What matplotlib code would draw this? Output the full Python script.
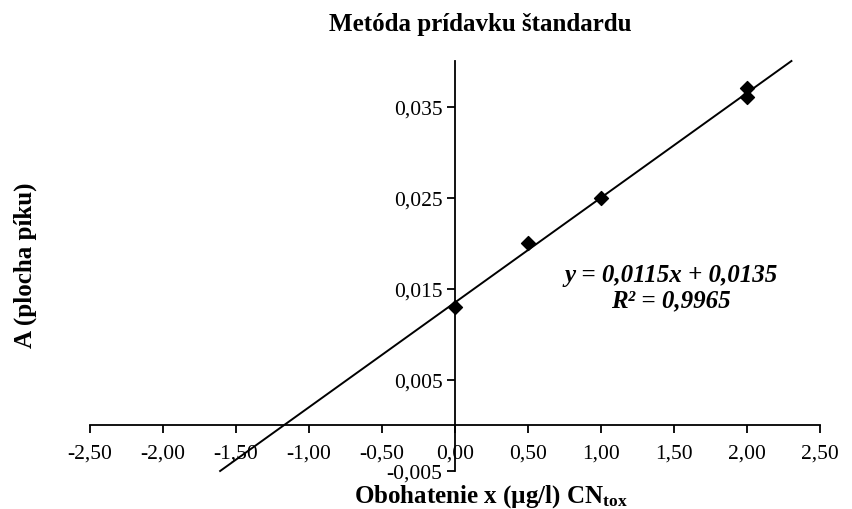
import matplotlib
matplotlib.use("Agg")
import matplotlib.pyplot as plt
from matplotlib.ticker import FuncFormatter, FixedLocator
import numpy as np

plt.rcParams['font.family'] = ['Liberation Serif', 'DejaVu Serif']
plt.rcParams['mathtext.fontset'] = 'custom'
plt.rcParams['mathtext.rm'] = 'Liberation Serif'
plt.rcParams['mathtext.bf'] = 'Liberation Serif:bold'
plt.rcParams['mathtext.it'] = 'Liberation Serif:italic'

x_vals = [0.0, 0.5, 1.0, 2.0, 2.0]
y_vals = [0.013, 0.020, 0.025, 0.036, 0.037]
slope = 0.0115
intercept = 0.0135
r2 = 0.9965
x_ticks = [-2.5, -2.0, -1.5, -1.0, -0.5, 0.0, 0.5, 1.0, 1.5, 2.0, 2.5]
y_ticks = [-0.005, 0.005, 0.015, 0.025, 0.035]

fig = plt.figure(figsize=(8.53, 5.10), dpi=100)
ax = fig.add_axes([90/853, 1-472/510, 730/853, 410/510])
ax.set_xlim(-2.5, 2.5)
ax.set_ylim(-0.005, 0.04)

ax.spines['left'].set_position(('data', 0))
ax.spines['bottom'].set_position(('data', 0))
ax.spines['right'].set_visible(False)
ax.spines['top'].set_visible(False)
for s in ('left', 'bottom'):
    ax.spines[s].set_linewidth(1.3)

ax.xaxis.set_major_locator(FixedLocator(x_ticks))
ax.yaxis.set_major_locator(FixedLocator(y_ticks))
ax.xaxis.set_major_formatter(FuncFormatter(lambda v, p: f"{v:.2f}".replace('.', ',')))
ax.yaxis.set_major_formatter(FuncFormatter(lambda v, p: f"{v:.3f}".replace('.', ',')))
ax.tick_params(axis='both', direction='out', length=6, width=1.3, labelsize=15.5)
ax.tick_params(axis='x', pad=7)
ax.tick_params(axis='y', pad=3)

# trendline
xl = np.array([(-0.005 - intercept) / slope, (0.04 - intercept) / slope])
ax.plot(xl, slope * xl + intercept, color='black', lw=1.4, clip_on=False)

ax.scatter(x_vals, y_vals, marker='D', s=50, color='black', zorder=5, clip_on=False)

ax.text(1.48, 0.0152, f"y = {slope:.4f}x + {intercept:.4f}\nR² = {r2:.4f}".replace('.', ','),
        ha='center', va='center', fontsize=18, fontweight='bold', fontstyle='italic',
        linespacing=1.15)

fig.text(480/853, 1-25/510, "Metóda prídavku štandardu", ha='center', va='center',
         fontsize=18, fontweight='bold')
fig.text(25/853, 1-265/510, "A (plocha píku)", ha='center', va='center',
         rotation=90, fontsize=18, fontweight='bold')
fig.text(491/853, 1-497/510, r"Obohatenie x (µg/l) CN$_{\mathbf{tox}}$", ha='center', va='center',
         fontsize=18, fontweight='bold')

fig.savefig("out.png", dpi=100)
